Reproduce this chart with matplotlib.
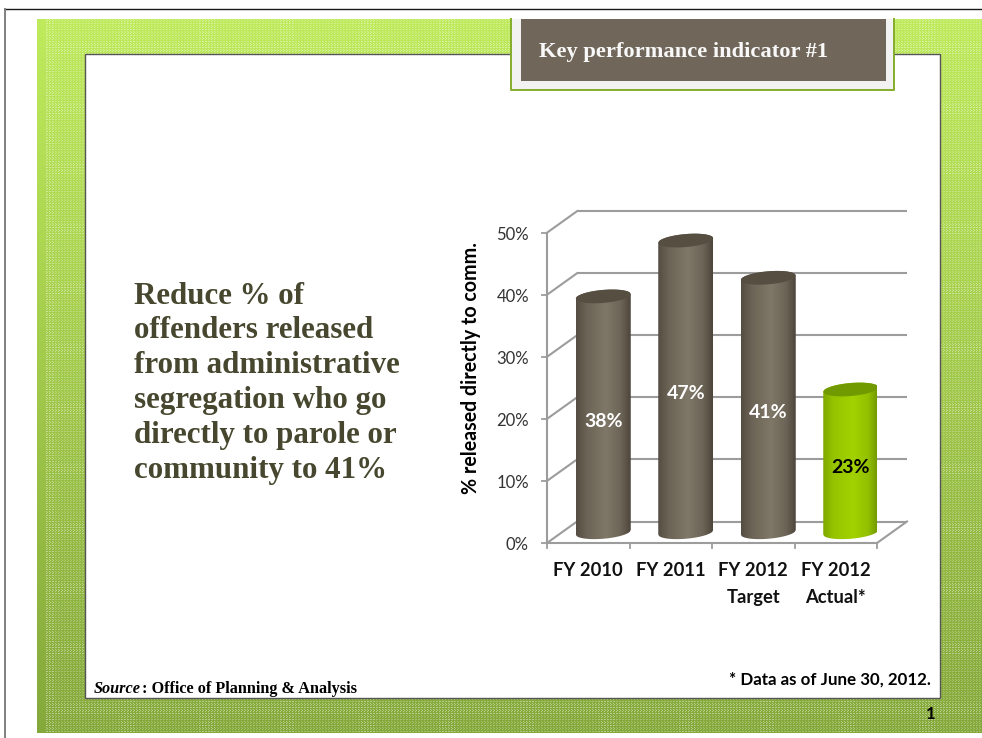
import numpy as np
import matplotlib
matplotlib.use("Agg")
import matplotlib.pyplot as plt
from matplotlib.patches import PathPatch, Rectangle
from matplotlib.path import Path
from matplotlib.colors import LinearSegmentedColormap

W, H = 982, 738

categories = ["FY 2010", "FY 2011", "FY 2012\nTarget", "FY 2012\nActual*"]
values = [38, 47, 41, 23]
value_labels = ["38%", "47%", "41%", "23%"]
label_colors = ["white", "white", "white", "black"]
y_ticks = [0, 10, 20, 30, 40, 50]
y_tick_labels = ["0%", "10%", "20%", "30%", "40%", "50%"]
headline = ["Reduce % of", "offenders released", "from administrative",
            "segregation who go", "directly to parole or", "community to 41%"]

SANS = "Lato"
SERIF = "Liberation Serif"

fig = plt.figure(figsize=(W / 100, H / 100), dpi=100, facecolor="white")

# Page layer addressed in pixels, origin at the top left
page = fig.add_axes([0, 0, 1, 1])
page.set_xlim(0, W)
page.set_ylim(H, 0)
page.axis("off")

# Woven green backdrop: vertical colour ramp under a fine light thread grid
yy, xx = np.mgrid[0:H - 19 - 5, 0:W - 37]
t = yy / yy.max()
top, bottom = np.array([0.75, 0.92, 0.36]), np.array([0.52, 0.66, 0.23])
tex = top[None, None, :] + (bottom - top)[None, None, :] * t[..., None]
threads = (((xx % 3 == 0) & (yy % 2 == 0)) | ((xx % 3 == 1) & (yy % 3 == 1))) & (xx >= 8)
bands = (((xx + 30) // 16) % 5 == 2) | ((yy // 12) % 5 == 2)
weave = 0.26 + 0.14 * bands
tex = tex + (1 - tex) * (threads * weave)[..., None]
page.imshow(tex, extent=(37, W, H - 5, 19), aspect="auto",
            interpolation="nearest", zorder=1)
page.set_xlim(0, W)
page.set_ylim(H, 0)

# Outer slide edge
page.plot([5, W], [9, 9], color="#1a1a1a", lw=1.0, zorder=2)
page.plot([5.5, 5.5], [9, H], color="#808080", lw=1.4, zorder=2)

# White content panel
page.add_patch(Rectangle((85, 54), 855, 644, fc="white", ec="#555555",
                         lw=1.0, zorder=3))

# Heading tab, open along its top edge
page.add_patch(Rectangle((511.5, 19), 383, 71, fc="#F2F2F2", ec="none", zorder=4))
page.plot([511.5, 511.5, 894.5, 894.5], [19, 90, 90, 19], color="#84AE2C",
          lw=1.4, zorder=5)
page.add_patch(Rectangle((521, 19), 365, 62, fc="#70675A", ec="none", zorder=5))
page.text(539, 52, "Key performance indicator #1", family=SERIF, weight="bold",
          fontsize=16.2, color="#F8F8F8", va="center", ha="left", zorder=7)

# Headline block
for i, line in enumerate(headline):
    page.text(134, 296 + i * 34.9, line, family=SERIF, weight="bold",
              fontsize=22.3, color="#47472F", va="center", ha="left", zorder=7)

# Footnotes
page.text(94, 689, "Source", family=SERIF, weight="bold", style="italic",
          fontsize=11.7, color="black", va="center", ha="left", zorder=7)
page.text(142, 689, ": Office of Planning & Analysis", family=SERIF, weight="bold",
          fontsize=11.7, color="black", va="center", ha="left", zorder=7)
page.text(931, 680, "* Data as of June 30, 2012.", family=SANS, weight="bold",
          fontsize=12.2, color="black", va="center", ha="right", zorder=7)
page.text(931, 714, "1", family=SANS, weight="bold",
          fontsize=12, color="black", va="center", ha="center", zorder=7)

# Chart axes: front floor edge and value scale, data coordinates throughout
L, R, Y0, Y50 = 547, 877, 543, 232.7
ax = fig.add_axes([L / W, 1 - Y0 / H, (R - L) / W, (Y0 - Y50) / H], zorder=5)
ax.set_xlim(0, 4)
ax.set_ylim(0, 50)
ax.patch.set_alpha(0)
ax.axis("off")

px_x = 4 / (R - L)
px_y = 50 / (Y0 - Y50)
DX, DY = 30 * px_x, 21.5 * px_y
GRID = "#9C9C9C"

# Back wall rules, side wall rungs and floor
for v in y_ticks:
    ax.plot([DX, 4 + DX], [v + DY, v + DY], color=GRID, lw=1.5, clip_on=False,
            solid_capstyle="butt")
    ax.plot([0, DX], [v, v + DY], color=GRID, lw=1.5, clip_on=False)
ax.plot([0, 0], [0, 50], color=GRID, lw=1.5, clip_on=False)
ax.plot([0, 4], [0, 0], color=GRID, lw=1.5, clip_on=False)
ax.plot([4, 4 + DX], [0, DY], color=GRID, lw=1.5, clip_on=False)

# Tick marks
for i in range(5):
    ax.plot([i, i], [0, -5 * px_y], color=GRID, lw=1.3, clip_on=False)
for v, lab in zip(y_ticks, y_tick_labels):
    ax.plot([0, -5 * px_x], [v, v], color=GRID, lw=1.3, clip_on=False)
    ax.text(-18 * px_x, v - 2.5 * px_y, lab, family=SANS, fontsize=12, color="#333333",
            ha="right", va="center", clip_on=False)

brown = LinearSegmentedColormap.from_list(
    "brown", [(0, "#544D41"), (0.2, "#6C6456"), (0.55, "#7F7767"),
              (0.82, "#6C6456"), (1, "#4D463B")])
green = LinearSegmentedColormap.from_list(
    "green", [(0, "#7FA900"), (0.2, "#96C500"), (0.55, "#A2D200"),
              (0.82, "#93C000"), (1, "#6F9600")])
shade = np.linspace(0, 1, 128)[None, :]

BW = 55 * px_x / 2    # cylinder half width
EH = 6.5 * px_y       # ellipse half height
TILT = 4.5 * px_y     # rise of the ellipse from left to right


def rim(cx, cy, lower):
    s = np.linspace(-1, 1, 60) if lower else np.linspace(1, -1, 60)
    a = np.sqrt(1 - s ** 2) * EH * (-1 if lower else 1)
    return cx + s * BW, cy + s * TILT / 2 + a


for i, v in enumerate(values):
    cx, base = i + 0.5 + DX / 2, DY / 2
    bx, by = rim(cx, base, True)
    tx, ty = rim(cx, v + base, False)
    verts = np.column_stack([np.r_[bx, tx], np.r_[by, ty]])
    body = Path(np.vstack([verts, verts[0]]))
    clip = PathPatch(body, fc="none", ec="none", transform=ax.transData)
    ax.add_patch(clip)
    cmap = green if i == 3 else brown
    im = ax.imshow(shade, cmap=cmap, aspect="auto", zorder=3,
                   extent=(cx - BW, cx + BW, 0, 55))
    im.set_clip_path(clip)
    # Cap of the cylinder
    ux, uy = rim(cx, v + base, False)
    lx, ly = rim(cx, v + base, True)
    cap = np.column_stack([np.r_[lx, ux], np.r_[ly, uy]])
    ax.add_patch(PathPatch(Path(np.vstack([cap, cap[0]])), ec="none", zorder=4,
                           fc="#719A00" if i == 3 else "#574E42"))
    ax.text(cx, v / 2 + 0.6, value_labels[i], family=SANS, weight="bold",
            fontsize=14, color=label_colors[i], ha="center", va="center", zorder=5)
    ax.text(i + 0.5, -19 * px_y, categories[i], family=SANS, weight="bold",
            fontsize=13.2, color="#111111", ha="center", va="top",
            linespacing=1.68, clip_on=False)
ax.set_xlim(0, 4)
ax.set_ylim(0, 50)

page.text(471, 368, "% released directly to comm.", family=SANS, weight="bold",
          fontsize=14.1, color="black", rotation=90, ha="center", va="center", zorder=7)

fig.savefig("out.png", dpi=100)
